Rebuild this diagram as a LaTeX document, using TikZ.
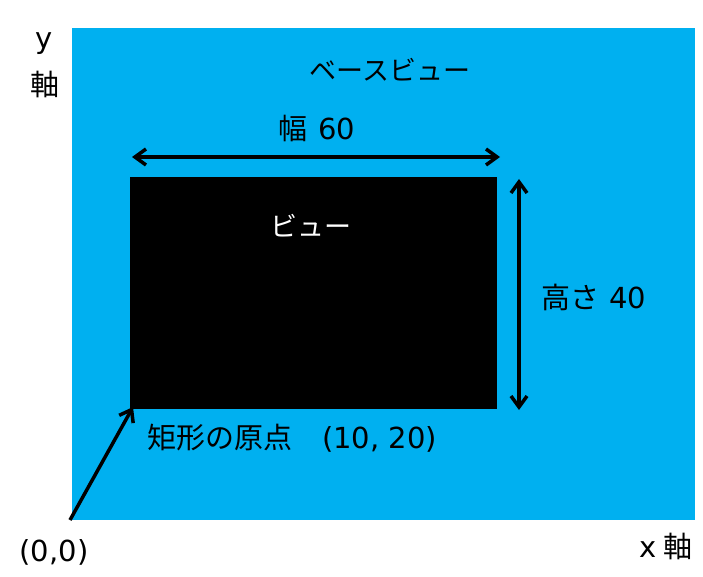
\documentclass[tikz,border=0pt]{standalone}
\usepackage{fontspec}
\setmainfont{Noto Sans CJK JP}
\newfontfamily\latn{DejaVu Sans}
\usetikzlibrary{positioning, arrows.meta}
\definecolor{baseblue}{RGB}{0,176,240}

\begin{document}
\begin{tikzpicture}[x=1pt, y=-1pt]
\tikzset{
>={Straight Barb[length=11pt, width=16pt]}, % open arrow heads
dim/.style={<->, line width=3.5pt}, % dimension arrows
lbl/.style={font=\fontsize{29}{32}\selectfont, inner sep=0pt}, % sets the text style
kana/.style={font=\fontsize{27}{30}\selectfont, inner sep=0pt}, % katakana titles
}
	\useasboundingbox (0,0) rectangle (703,577);
	% the base view and the view
	\fill[baseblue] (72,28) rectangle (695,520);
	\fill[black] (130,177) rectangle (497,409);
	\coordinate (origin) at (70,520);
	\coordinate (corner) at (133,407);
	\coordinate (wl) at (132,157);
	\coordinate (wr) at (500,157);
	\coordinate (ht) at (519,179);
	\coordinate (hb) at (519,410);

	\node[kana] (base) at (390,70) {ベースビュー};
	\node[kana, text=white] (view) at (311,226) {ビュー};
	\node[lbl] (width) at (317,128) {幅\hspace{4pt} {\latn 60}};
	\node[lbl] (height) at (594,297) {高さ\hspace{3pt} {\latn 40}};
	\node[lbl, anchor=west] (rectorig) at (147,438) {矩形の原点\hspace{30pt}{\latn (10, 20)}};
	\node[lbl, font=\latn\fontsize{29}{32}\selectfont] (zero) at (54,552) {(0,0)};
	\node[lbl] (xaxis) at (666,546) {{\latn x} 軸};
	\node[lbl, font=\latn\fontsize{29}{32}\selectfont] (ylabel) at (44,44) {y};
	\node[lbl] (yaxis) at (45,84) {軸};

	\draw[dim] (wl) -- (wr);
	\draw[dim] (ht) -- (hb);
	\draw[->, line width=3.5pt] (origin) -- (corner);
\end{tikzpicture}
\end{document}
